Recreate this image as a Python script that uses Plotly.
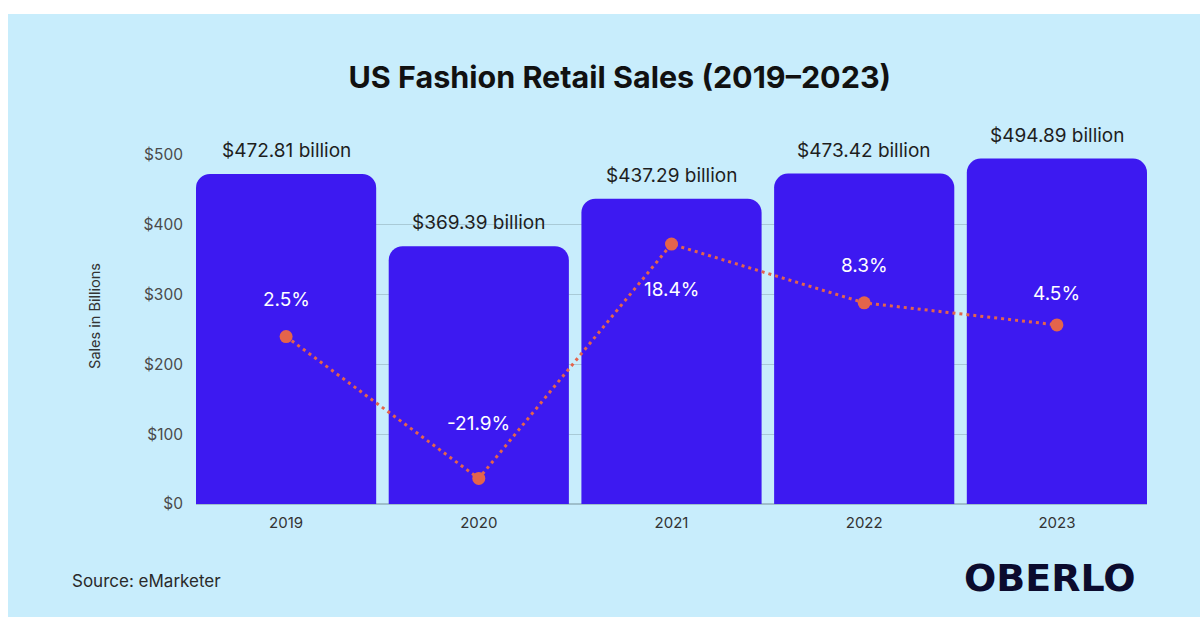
import plotly.graph_objects as go

# Annual US fashion retail sales and year-over-year growth
years = ["2019", "2020", "2021", "2022", "2023"]
sales_billion = [472.81, 369.39, 437.29, 473.42, 494.89]
growth_pct = [2.5, -21.9, 18.4, 8.3, 4.5]
y_ticks = [0, 100, 200, 300, 400, 500]
y_tick_text = ["$0", "$100", "$200", "$300", "$400", "$500"]

# vertical offsets (px) of the growth labels relative to their points
growth_label_shift = [37, 55, -45, 37, 31]

BAR = "#3d19f1"
DOT = "#e4644b"
BG = "#c8edfc"
FONT = "Inter"

fig = go.Figure()

fig.add_trace(go.Bar(
    x=years, y=sales_billion,
    marker=dict(color=BAR, line=dict(width=0)),
    hoverinfo="skip",
))

fig.add_trace(go.Scatter(
    x=years, y=growth_pct, yaxis="y2",
    mode="lines+markers",
    line=dict(color=DOT, width=3, dash="3px,4px"),
    marker=dict(color=DOT, size=13),
    hoverinfo="skip",
))

annotations = []
# category axis: annotations are positioned by category index
for i, v in enumerate(sales_billion):
    annotations.append(dict(
        x=i, y=v, xref="x", yref="y",
        text=f"${v:.2f} billion", showarrow=False,
        yanchor="bottom", yshift=10,
        font=dict(family=FONT, size=19, color="#1e1e1e"),
    ))
for i, (g, s) in enumerate(zip(growth_pct, growth_label_shift)):
    annotations.append(dict(
        x=i, y=g, xref="x", yref="y2",
        text=f"{g}%", showarrow=False,
        yanchor="middle", yshift=s,
        font=dict(family=FONT, size=19, color="#ffffff"),
    ))
annotations += [
    dict(text="Sales in Billions", textangle=-90, showarrow=False,
         xref="paper", yref="paper", x=-0.1062, y=0.539,
         xanchor="center", yanchor="middle",
         font=dict(family=FONT, size=14.5, color="#333333")),
    dict(text="Source: eMarketer", showarrow=False,
         xref="paper", yref="paper", x=(70 - 196) / 951, y=(504 - 581) / 349,
         xanchor="left", yanchor="middle",
         font=dict(family=FONT, size=17, color="#2a2a2a")),
    dict(text="<b>OBERLO</b>", showarrow=False,
         xref="paper", yref="paper", x=(1138 - 196) / 951, y=(504 - 578) / 349,
         xanchor="right", yanchor="middle",
         font=dict(family="DejaVu Sans", size=38, color="#0b0b2e")),
]

fig.update_layout(
    width=1200, height=617,
    margin=dict(l=196, r=53, t=155, b=113),
    paper_bgcolor="#ffffff",
    plot_bgcolor="rgba(0,0,0,0)",
    showlegend=False,
    bargap=0.065,
    barcornerradius=14,
    title=dict(
        text="<b>US Fashion Retail Sales (2019–2023)</b>",
        x=0.5165, xanchor="center", y=1 - 77 / 617, yanchor="middle",
        font=dict(family=FONT, size=30.5, color="#111111"),
    ),
    xaxis=dict(
        type="category", range=[-0.4675, 4.4675],
        showgrid=False, zeroline=False, showline=False,
        ticks="", ticklabelstandoff=8,
        tickfont=dict(family=FONT, size=15, color="#333333"),
    ),
    yaxis=dict(
        range=[0, 500], tickvals=y_ticks, ticktext=y_tick_text,
        showgrid=True, gridcolor="#a9cad6", gridwidth=1,
        zeroline=True, zerolinecolor="#9fbfcb", zerolinewidth=1.5,
        showline=False, ticks="", ticklabelstandoff=12,
        tickfont=dict(family=FONT, size=15.5, color="#4a4a4a"),
    ),
    yaxis2=dict(
        overlaying="y", side="right", range=[-26.29, 33.72],
        showgrid=False, zeroline=False, showticklabels=False, showline=False,
    ),
    annotations=annotations,
    shapes=[dict(
        type="rect", xref="paper", yref="paper", layer="below",
        x0=(8 - 196) / 951, x1=(1200 - 196) / 951,
        y0=(504 - 617) / 349, y1=(504 - 14) / 349,
        fillcolor=BG, line=dict(width=0),
    )],
)

fig.write_html("out.html")
